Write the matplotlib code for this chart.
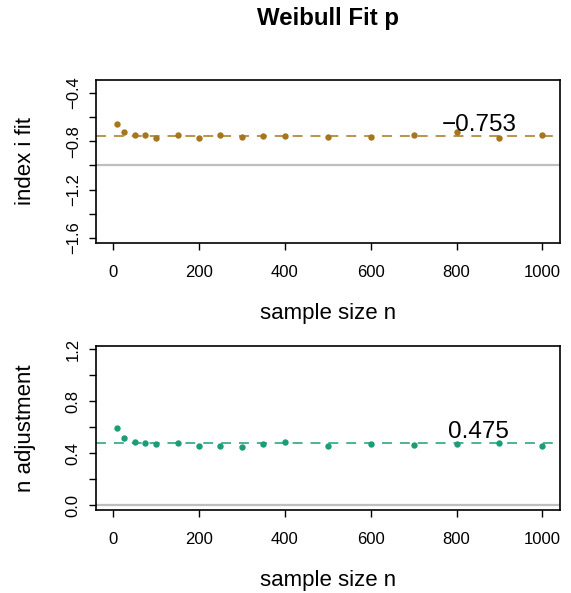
import numpy as np
import matplotlib.pyplot as plt
from matplotlib.ticker import MultipleLocator, FuncFormatter

plt.rcParams['font.family'] = ['Liberation Sans', 'DejaVu Sans']

# sample sizes
n = [10, 25, 50, 75, 100, 150, 200, 250, 300, 350, 400, 500, 600, 700, 800, 900, 1000]
# fitted index i
index_fit = [-0.655, -0.721, -0.746, -0.746, -0.770, -0.748, -0.772, -0.748, -0.765,
             -0.757, -0.757, -0.762, -0.765, -0.748, -0.724, -0.772, -0.748]
# n adjustment
n_adj = [0.590, 0.515, 0.485, 0.474, 0.467, 0.474, 0.451, 0.456, 0.446,
         0.469, 0.482, 0.454, 0.469, 0.462, 0.469, 0.474, 0.456]
index_mean = -0.753
adj_mean = 0.475
index_ref = -1.0
adj_ref = 0.0

W, H = 571, 593
fig = plt.figure(figsize=(W / 100, H / 100), dpi=100)

def px_axes(left, top, right, bottom):
    return fig.add_axes([left / W, 1 - bottom / H, (right - left) / W, (bottom - top) / H])

ax1 = px_axes(96, 80, 559.5, 243)
ax2 = px_axes(96, 346, 559.5, 510)


def style(ax, y, mean, ref, col, ylabel, ylim, yticks):
    ax.axhline(ref, color='#BEBEBE', lw=1.6, zorder=1)
    ax.axhline(mean, color=col, lw=1.1, linestyle=(0, (6.5, 5.2)), zorder=2)
    ax.plot(n, y, 'o', color=col, markersize=4.6, markeredgewidth=0, zorder=3)
    ax.text(852, mean, '%g' % mean if mean > 0 else '\u2212%.3f' % abs(mean),
            fontsize=17.5, ha='center', va='bottom', transform=ax.transData)
    ax.set_xlim(-40, 1040)
    ax.set_ylim(*ylim)
    ax.xaxis.set_major_locator(MultipleLocator(200))
    ax.yaxis.set_major_locator(MultipleLocator(0.2))

    def fmt(v, pos):
        for t in yticks:
            if abs(v - t) < 1e-6:
                return ('%.1f' % t).replace('-', '\u2212')
        return ''
    ax.yaxis.set_major_formatter(FuncFormatter(fmt))
    ax.tick_params(axis='both', direction='out', length=5, width=1.0, labelsize=12)
    ax.tick_params(axis='x', pad=11)
    ax.tick_params(axis='y', pad=6)
    for lab in ax.get_yticklabels():
        lab.set_rotation(90)
        lab.set_va('center')
    for s in ax.spines.values():
        s.set_linewidth(1.2)
    ax.set_xlabel('sample size n', fontsize=16)
    ax.xaxis.set_label_coords(0.5, -0.43)
    ax.xaxis.label.set_va('center')
    ax.set_ylabel(ylabel, fontsize=16)
    ax.yaxis.set_label_coords(-0.153, 0.5)
    ax.yaxis.label.set_va('center')


style(ax1, index_fit, index_mean, index_ref, '#A6761D', 'index i fit',
      (-1.641, -0.293), [-1.6, -1.2, -0.8, -0.4])
style(ax2, n_adj, adj_mean, adj_ref, '#1B9E77', 'n adjustment',
      (-0.038, 1.223), [0.0, 0.4, 0.8, 1.2])

fig.text((96 + 559.5) / 2 / W, 1 - 19 / H, 'Weibull Fit p', fontsize=17.3,
         fontweight='bold', ha='center', va='center')

fig.savefig('out.png', dpi=100)
